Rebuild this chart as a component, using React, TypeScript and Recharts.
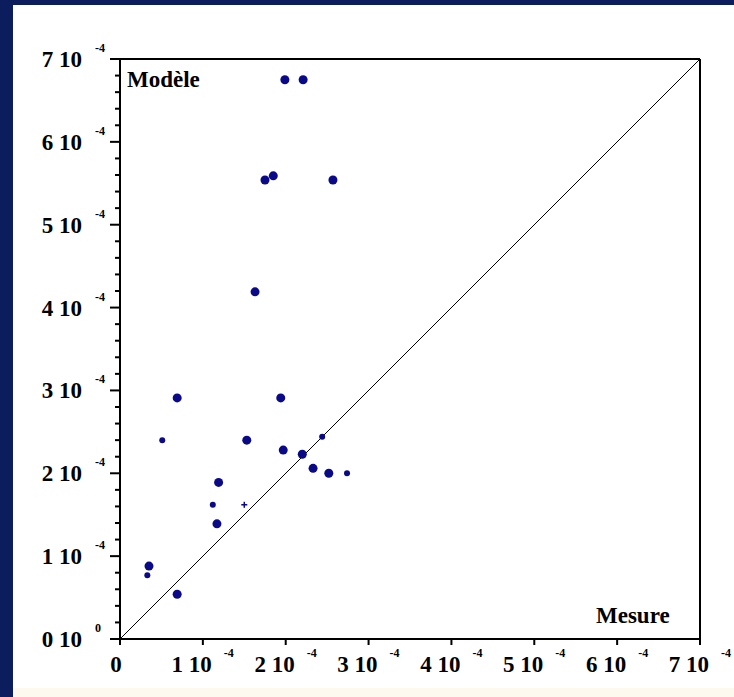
import { ReferenceLine, Scatter, ScatterChart, XAxis, YAxis } from 'recharts';

// values in units of 1e-4
const measureBig = [1.99, 2.21, 1.75, 1.85, 2.57, 1.63, 0.69, 1.94, 1.53, 1.97, 2.2, 2.33, 2.52, 1.19, 1.17, 0.35, 0.69];
const modelBig = [6.75, 6.75, 5.54, 5.59, 5.54, 4.19, 2.91, 2.91, 2.4, 2.28, 2.23, 2.06, 2.0, 1.89, 1.39, 0.88, 0.54];
const measureSmall = [0.51, 2.44, 2.74, 1.12, 0.33];
const modelSmall = [2.4, 2.44, 2.0, 1.62, 0.77];
const measureTiny = [1.5];
const modelTiny = [1.62];

const majorTicks = [0, 1, 2, 3, 4, 5, 6, 7];
const xTickLabels = ['0', '1 10', '2 10', '3 10', '4 10', '5 10', '6 10', '7 10'];
const xTickExps = ['', '-4', '-4', '-4', '-4', '-4', '-4', '-4'];
const yTickLabels = ['0 10', '1 10', '2 10', '3 10', '4 10', '5 10', '6 10', '7 10'];
const yTickExps = ['0', '-4', '-4', '-4', '-4', '-4', '-4', '-4'];

const minorTicks = majorTicks.flatMap((m, i) =>
  i === 0 ? [m] : [1, 2, 3, 4, 5].map((k) => majorTicks[i - 1] + (k * (m - majorTicks[i - 1])) / 5),
);

const toPoints = (xs: number[], ys: number[]) => xs.map((x, i) => ({ x, y: ys[i] }));

const DOT = '#0a0a88';
const FONT = "'Liberation Serif', 'Times New Roman', serif";

function majorIndex(v: number) {
  return majorTicks.findIndex((m) => Math.abs(m - v) < 1e-6);
}

function LeftTick({ x, y, payload }: any) {
  const idx = majorIndex(payload.value);
  if (idx < 0) return <line x1={x - 5} x2={x} y1={y} y2={y} stroke="#000" strokeWidth={2} />;
  return (
    <g>
      <line x1={x - 10} x2={x} y1={y} y2={y} stroke="#000" strokeWidth={2} />
      <text x={x - 38} y={y + 8} textAnchor="end" fontFamily={FONT} fontWeight="bold" fontSize={23} fill="#000">
        {yTickLabels[idx]}
      </text>
      <text x={x - 25} y={y - 7} textAnchor="start" fontFamily={FONT} fontWeight="bold" fontSize={12} fill="#000">
        {yTickExps[idx]}
      </text>
    </g>
  );
}

function RightTick({ x, y, payload }: any) {
  const idx = majorIndex(payload.value);
  const len = idx < 0 ? 6 : 12;
  return <line x1={x} x2={x + len} y1={y} y2={y} stroke="#000" strokeWidth={2} />;
}

function BottomTick({ x, y, payload }: any) {
  const idx = majorIndex(payload.value);
  if (idx < 0) return null;
  const exp = xTickExps[idx];
  return (
    <g>
      <line x1={x} x2={x} y1={y} y2={y + 6} stroke="#000" strokeWidth={2} />
      {exp ? (
        <>
          <text x={x + 9} y={y + 33} textAnchor="end" fontFamily={FONT} fontWeight="bold" fontSize={23} fill="#000">
            {xTickLabels[idx]}
          </text>
          <text x={x + 21} y={y + 18} textAnchor="start" fontFamily={FONT} fontWeight="bold" fontSize={12} fill="#000">
            {exp}
          </text>
        </>
      ) : (
        <text x={x - 4} y={y + 33} textAnchor="middle" fontFamily={FONT} fontWeight="bold" fontSize={23} fill="#000">
          {xTickLabels[idx]}
        </text>
      )}
    </g>
  );
}

const dotShape = (r: number) => (props: any) => <circle cx={props.cx} cy={props.cy} r={r} fill={DOT} />;

const crossShape = (props: any) => (
  <g stroke={DOT} strokeWidth={1.5}>
    <line x1={props.cx - 3} x2={props.cx + 3} y1={props.cy} y2={props.cy} />
    <line x1={props.cx} x2={props.cx} y1={props.cy - 3} y2={props.cy + 3} />
  </g>
);

export default function App() {
  return (
    <div
      style={{
        position: 'absolute',
        left: 0,
        top: 0,
        width: 734,
        height: 697,
        background: '#fff',
        overflow: 'hidden',
      }}
    >
      <div style={{ position: 'absolute', left: 0, top: 0, width: 734, height: 5, background: '#0b1d5c' }} />
      <div style={{ position: 'absolute', left: 0, top: 0, width: 13, height: 697, background: '#0b1d5c' }} />
      <div style={{ position: 'absolute', left: 13, top: 688, width: 721, height: 9, background: '#fdf9ee' }} />
      <div style={{ position: 'absolute', left: 0, top: 0 }}>
        <ScatterChart width={734} height={697} margin={{ top: 59, right: 14, bottom: 18, left: 60 }}>
          <XAxis
            type="number"
            dataKey="x"
            domain={[0, 7]}
            ticks={majorTicks}
            interval={0}
            tickSize={0}
            tickMargin={0}
            tickLine={false}
            height={40}
            axisLine={{ stroke: '#000', strokeWidth: 2 }}
            tick={BottomTick}
          />
          <YAxis
            yAxisId="left"
            type="number"
            dataKey="y"
            domain={[0, 7]}
            ticks={minorTicks}
            interval={0}
            tickSize={0}
            tickMargin={0}
            tickLine={false}
            width={60}
            axisLine={{ stroke: '#000', strokeWidth: 2 }}
            tick={LeftTick}
          />
          <YAxis
            yAxisId="right"
            orientation="right"
            type="number"
            domain={[0, 7]}
            ticks={minorTicks}
            interval={0}
            tickSize={0}
            tickMargin={0}
            tickLine={false}
            width={20}
            axisLine={{ stroke: '#000', strokeWidth: 2 }}
            tick={RightTick}
          />
          <ReferenceLine yAxisId="left" y={7} stroke="#000" strokeWidth={2} />
          <ReferenceLine
            yAxisId="left"
            segment={[
              { x: 0, y: 0 },
              { x: 7, y: 7 },
            ]}
            stroke="#000"
            strokeWidth={1}
          />
          <Scatter yAxisId="left" data={toPoints(measureBig, modelBig)} shape={dotShape(4.5)} isAnimationActive={false} />
          <Scatter yAxisId="left" data={toPoints(measureSmall, modelSmall)} shape={dotShape(3)} isAnimationActive={false} />
          <Scatter yAxisId="left" data={toPoints(measureTiny, modelTiny)} shape={crossShape} isAnimationActive={false} />
        </ScatterChart>
      </div>
      <svg width={734} height={697} style={{ position: 'absolute', left: 0, top: 0, pointerEvents: 'none' }}>
        <text x={127} y={87} fontFamily={FONT} fontWeight="bold" fontSize={23} fill="#000">
          Modèle
        </text>
        <text x={596} y={623} fontFamily={FONT} fontWeight="bold" fontSize={23} fill="#000">
          Mesure
        </text>
      </svg>
    </div>
  );
}
